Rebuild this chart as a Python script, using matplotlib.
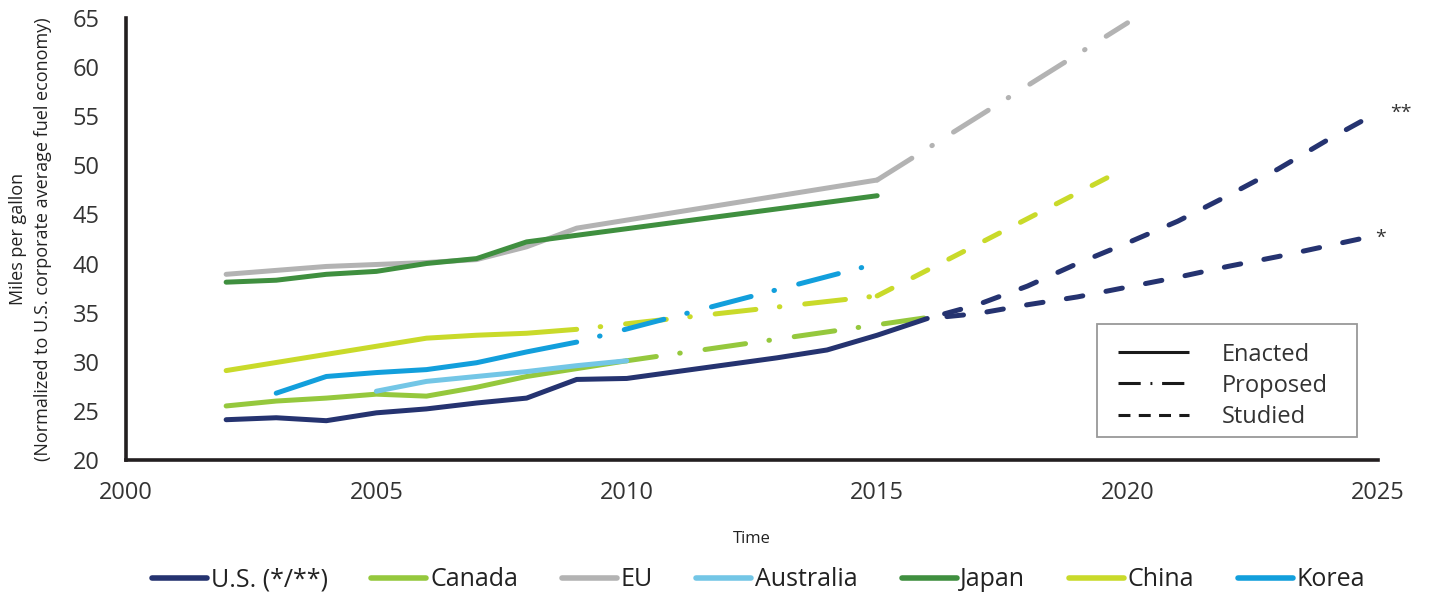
import matplotlib
matplotlib.use("Agg")
import numpy as np
import matplotlib.pyplot as plt
from matplotlib.lines import Line2D
from matplotlib.patches import Rectangle

plt.rcParams['font.family'] = ['Open Sans', 'DejaVu Sans']
plt.rcParams['lines.scale_dashes'] = False

# colours of the countries
c_us = '#253370'
c_canada = '#95c83d'
c_eu = '#b3b3b3'
c_australia = '#73c6e6'
c_japan = '#3f8f3f'
c_china = '#c9da2a'
c_korea = '#129fdc'

# data (mpg)
us_years = [2002, 2003, 2004, 2005, 2006, 2007, 2008, 2009, 2010, 2011, 2012, 2013, 2014, 2015, 2016]
us_enacted = [24.1, 24.3, 24.0, 24.8, 25.2, 25.8, 26.3, 28.2, 28.3, 29.0, 29.7, 30.4, 31.2, 32.7, 34.4]
us_st_years = [2016, 2017, 2018, 2019, 2020, 2021, 2022, 2023, 2024, 2025]
us_studied_hi = [34.4, 35.8, 37.7, 40.0, 42.1, 44.3, 46.9, 49.6, 52.6, 55.4]
us_studied_lo = [34.4, 34.9, 35.8, 36.6, 37.6, 38.6, 39.7, 40.7, 41.8, 42.9]

canada_years = [2002, 2003, 2004, 2005, 2006, 2007, 2008, 2009, 2010]
canada_enacted = [25.5, 26.0, 26.3, 26.7, 26.5, 27.4, 28.5, 29.3, 30.1]
canada_pr_years = [2010, 2013, 2016]
canada_proposed = [30.1, 32.3, 34.5]

eu_years = [2002, 2003, 2004, 2005, 2006, 2007, 2008, 2009, 2015]
eu_enacted = [38.9, 39.3, 39.7, 39.9, 40.1, 40.4, 41.7, 43.6, 48.5]
eu_pr_years = [2015, 2020]
eu_proposed = [48.5, 64.5]

australia_years = [2005, 2006, 2007, 2008, 2009, 2010]
australia_enacted = [27.0, 28.0, 28.5, 29.0, 29.6, 30.1]

japan_years = [2002, 2003, 2004, 2005, 2006, 2007, 2008, 2015]
japan_enacted = [38.1, 38.3, 38.9, 39.2, 40.0, 40.5, 42.2, 46.9]

china_years = [2002, 2006, 2007, 2008, 2009]
china_enacted = [29.1, 32.4, 32.7, 32.9, 33.3]
china_pr_years = [2009, 2015]
china_proposed = [33.3, 36.7]
china_st_years = [2015, 2020]
china_studied = [36.7, 49.8]

korea_years = [2003, 2004, 2005, 2006, 2007, 2008, 2009]
korea_enacted = [26.8, 28.5, 28.9, 29.2, 29.9, 31.0, 32.0]
korea_pr_years = [2009, 2015]
korea_proposed = [32.0, 40.0]

PROP = (29.5, 17, 0.4, 18)
STUD = (12, 17)

fig = plt.figure(figsize=(14.3, 5.97), dpi=100)
ax = fig.add_axes([0.0881, 0.2295, 0.8755, 0.7405])
ax.set_xlim(2000, 2025)
ax.set_ylim(20, 65)


def seg(x, y, color, style='-', z=2):
    ax.plot(x, y, color=color, lw=3.6, linestyle=style, solid_capstyle='round',
            dash_capstyle='round', solid_joinstyle='round', zorder=z)


def end_in_gap(x, y, into_gap=14):
    # dash offset so that the line stops a little way into a gap
    p = ax.transData.transform(np.column_stack([x, y]))
    length = np.hypot(*np.diff(p, axis=0).T).sum() * 72 / fig.dpi
    return (STUD[0] + into_gap - length) % sum(STUD)


seg(eu_years, eu_enacted, c_eu, z=2)
seg(eu_pr_years, eu_proposed, c_eu, (0, PROP), z=2)
seg(japan_years, japan_enacted, c_japan, z=3)
seg(china_years, china_enacted, c_china, z=3)
seg(china_pr_years, china_proposed, c_china, (29.5, PROP), z=3)
seg(china_st_years, china_studied, c_china, (0, STUD), z=3)
seg(korea_years, korea_enacted, c_korea, z=4)
seg(korea_pr_years, korea_proposed, c_korea, (29.5, PROP), z=4)
seg(canada_years, canada_enacted, c_canada, z=4)
seg(canada_pr_years, canada_proposed, c_canada, (8, PROP), z=4)
seg(australia_years, australia_enacted, c_australia, z=5)
seg(us_st_years, us_studied_hi, c_us, (end_in_gap(us_st_years, us_studied_hi), STUD), z=6)
seg(us_st_years, us_studied_lo, c_us, (end_in_gap(us_st_years, us_studied_lo), STUD), z=6)
seg(us_years, us_enacted, c_us, z=6)

ax.text(2025.25, 55.3, '**', fontsize=14, color='#333333', ha='left', va='center', clip_on=False)
ax.text(2024.95, 42.6, '*', fontsize=14, color='#333333', ha='left', va='center', clip_on=False)

ax.set_xticks([2000, 2005, 2010, 2015, 2020, 2025])
ax.set_yticks(range(20, 66, 5))
ax.tick_params(length=0, labelsize=17, labelcolor='#333333')
ax.tick_params(axis='y', pad=19)
ax.tick_params(axis='x', pad=15)
for s in ['top', 'right']:
    ax.spines[s].set_visible(False)
for s in ['left', 'bottom']:
    ax.spines[s].set_linewidth(2.6)
    ax.spines[s].set_color('#231f20')

ax.set_ylabel('Miles per gallon\n(Normalized to U.S. corporate average fuel economy)',
              fontsize=13, color='#222222', labelpad=15, linespacing=1.5)
ax.set_xlabel('Time', fontsize=12, color='#222222', labelpad=19)

# line style legend: frame drawn by hand, entries without frame
ax.add_patch(Rectangle((0.7756, 0.052), 0.2076, 0.2557, transform=ax.transAxes,
                       facecolor='white', edgecolor='#999999', lw=1.3, zorder=8))
style_handles = [
    Line2D([], [], color='#1a1a1a', lw=2.2, linestyle='-', solid_capstyle='butt'),
    Line2D([], [], color='#1a1a1a', lw=2.2, linestyle=(0, (16, 7, 1.4, 7)), dash_capstyle='butt'),
    Line2D([], [], color='#1a1a1a', lw=2.2, linestyle=(0, (8.6, 6)), dash_capstyle='butt'),
]
leg1 = ax.legend(style_handles, ['Enacted', 'Proposed', 'Studied'], loc='upper left',
                 bbox_to_anchor=(0.7923, 0.2655), borderaxespad=0, borderpad=0, fontsize=17,
                 handlelength=3.0, handletextpad=1.4, labelspacing=0.3, frameon=False)
leg1.set_zorder(9)
for t in leg1.get_texts():
    t.set_color('#333333')

# country legend
names = ['U.S. (*/**)', 'Canada', 'EU', 'Australia', 'Japan', 'China', 'Korea']
cols = [c_us, c_canada, c_eu, c_australia, c_japan, c_china, c_korea]
handles = [Line2D([], [], color=c, lw=4, solid_capstyle='round') for c in cols]
leg2 = fig.legend(handles, names, loc='lower center', ncol=7, frameon=False,
                  bbox_to_anchor=(0.5305, -0.03), handlelength=2.2, handletextpad=0.15,
                  columnspacing=1.75, fontsize=18)
for t in leg2.get_texts():
    t.set_color('#222222')

fig.savefig('out.png', dpi=100)
